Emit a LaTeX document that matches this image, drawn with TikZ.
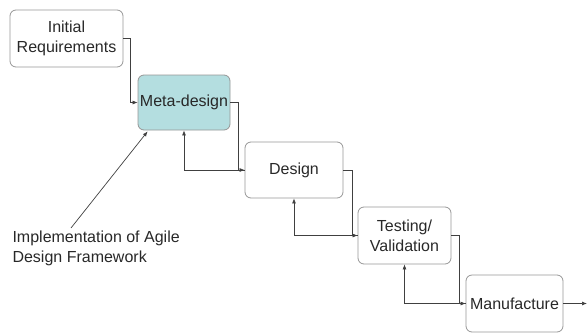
\documentclass[tikz,border=0pt]{standalone}
\usepackage{fontspec}
\setmainfont{Liberation Sans}
\usetikzlibrary{arrows.meta,calc}

\definecolor{metafill}{RGB}{180,222,224}
\definecolor{boxline}{RGB}{150,150,150}
\definecolor{txt}{RGB}{40,40,40}

\begin{document}
\begin{tikzpicture}[x=1pt,y=-1pt,
    font=\fontsize{16}{20}\selectfont, text=txt,
    stage/.style={draw=boxline, line width=0.8pt, rounded corners=6pt,
      align=center, inner sep=0pt},
    link/.style={draw=black!75, line width=0.7pt,
      -{Latex[length=5pt,width=4pt]}}]
    \useasboundingbox (0,0) rectangle (587,333);
    % stages
    \node[stage, minimum width=113, minimum height=57] (init) at (66.5,38.5)
      {Initial\\Requirements};
    \node[stage, fill=metafill, minimum width=92, minimum height=55] (meta) at (184,102.5)
      {Meta-design};
    \node[stage, minimum width=98, minimum height=56] (design) at (294,170)
      {Design};
    \node[stage, minimum width=93, minimum height=57] (test) at (404.5,235.5)
      {Testing/\\Validation};
    \node[stage, minimum width=97, minimum height=57] (manuf) at (514.5,303.5)
      {Manufacture};
    % forward flow
    \draw[link] (init.east) -- ++(7,0) |- (meta.west);
    \draw[link] (meta.east) -- ++(8,0) |- (design.west);
    \draw[link] (design.east) -- ++(9,0) |- (test.west);
    \draw[link] (test.east) -- ++(8,0) |- (manuf.west);
    \coordinate (out) at (587,303.5);
    \draw[link] (manuf.east) -- (out);
    % feedback
    \draw[link] (design.west) -| (meta.south);
    \draw[link] (test.west) -| (design.south);
    \draw[link] (manuf.west) -| (test.south);
    % annotation
    \node[anchor=north west, align=left] (impl) at (9,227)
      {Implementation of Agile\\Design Framework};
    \coordinate (implTop) at (71,228);
    \coordinate (metaHit) at ($(meta.south west)+(10,1)$);
    \draw[link] (implTop) -- (metaHit);
\end{tikzpicture}
\end{document}
